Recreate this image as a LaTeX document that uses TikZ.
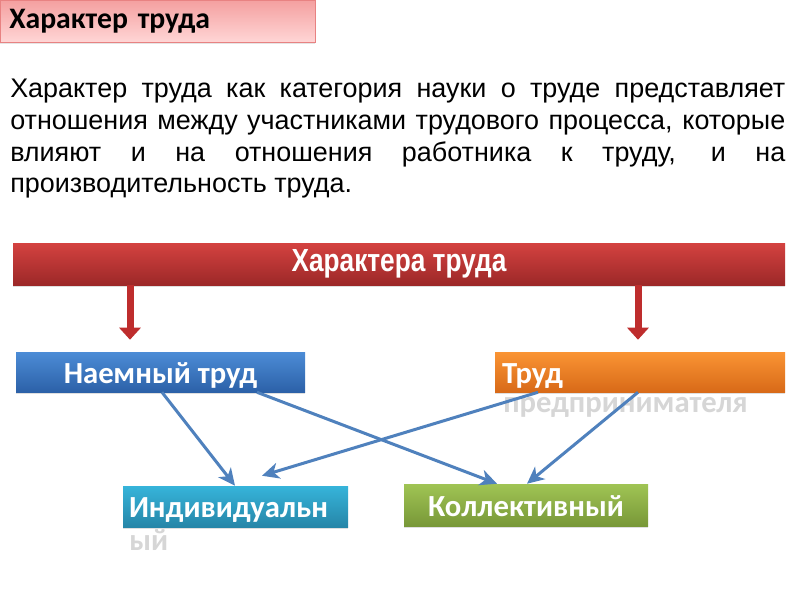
\documentclass[tikz,border=0pt]{standalone}
\usepackage{fontspec}
\setmainfont{Liberation Sans}
\newfontfamily\calfont{Carlito}
\newfontfamily\narrowfont[FakeStretch=0.82]{Liberation Sans}
\usetikzlibrary{arrows.meta,shadows,calc}
\newcommand\pxx[1]{#1*0.75pt}
\definecolor{linkblue}{RGB}{79,129,189}
\definecolor{arrred}{RGB}{190,45,45}
\tikzset{
  boxbase/.style={inner ysep=0pt, font=\calfont\bfseries\fontsize{23}{26}\selectfont, text=white,
    text height=\pxx{24}, text depth=\pxx{2},
    drop shadow={opacity=0.25, shadow xshift=0pt, shadow yshift=-1.5pt}},
  titlebar/.style={draw={rgb,255:red,232;green,130;blue,130}, line width=0.6pt,
    top color={rgb,255:red,244;green,160;blue,160}, bottom color={rgb,255:red,255;green,214;blue,214},
    inner ysep=0pt, font=\calfont\bfseries\fontsize{22.3}{25}\selectfont, text=black,
    drop shadow={opacity=0.2, shadow xshift=0pt, shadow yshift=-1.5pt}},
  redbar/.style={top color={rgb,255:red,212;green,66;blue,64}, bottom color={rgb,255:red,156;green,40;blue,40},
    inner sep=0pt, font=\narrowfont\bfseries\fontsize{24}{27}\selectfont, text=white,
    drop shadow={opacity=0.25, shadow xshift=0pt, shadow yshift=-1.5pt}},
  bluebox/.style={boxbase, top color={rgb,255:red,76;green,140;blue,214}, bottom color={rgb,255:red,44;green,97;blue,168}},
  orangebox/.style={boxbase, top color={rgb,255:red,250;green,148;blue,52}, bottom color={rgb,255:red,216;green,106;blue,24}},
  cyanbox/.style={boxbase, top color={rgb,255:red,54;green,180;blue,218}, bottom color={rgb,255:red,38;green,134;blue,168}},
  greenbox/.style={boxbase, top color={rgb,255:red,160;green,196;blue,84}, bottom color={rgb,255:red,120;green,152;blue,56}},
  overflow/.style={inner sep=0pt, font=\calfont\bfseries\fontsize{23}{26}\selectfont, text=black!16},
  redarrow/.style={draw=arrred, line width=\pxx{7}, -{Triangle[width=\pxx{21},length=\pxx{12}]}},
  bluearrow/.style={draw=linkblue, line width=\pxx{3}, -{Stealth[length=\pxx{17},width=\pxx{16},inset=\pxx{5}]}}
}
\begin{document}
\begin{tikzpicture}[x=0.75pt,y=-0.75pt]
\useasboundingbox (0,0) rectangle (800,600);
\fill[white] (0,0) rectangle (800,600);

% title bar
\node[titlebar, anchor=north west, text width=\pxx{297}, inner xsep=\pxx{9}, minimum height=\pxx{42}, align=left] (ttl) at (0,0) {Характер труда};

% paragraph
\node[anchor=north west, inner sep=0pt, text width=\pxx{775}, align=justify,
      font=\fontsize{20.2}{23.8}\selectfont] (par) at (10,79)
  {Характер труда как категория науки о труде представляет\linebreak
   отношения между участниками трудового процесса, которые\linebreak
   влияют и на отношения работника к труду, и на\linebreak
   производительность труда.};

% red bar
\node[redbar, minimum width=\pxx{772}, minimum height=\pxx{42}] (bar) at (399,264) {Характера труда};

% second row
\node[bluebox, minimum width=\pxx{289}, minimum height=\pxx{40}] (nai) at (160.5,372) {Наемный труд};
\node[orangebox, minimum width=\pxx{290}, minimum height=\pxx{40}, inner xsep=\pxx{7}] (trud) at (640,372) {\makebox[207pt][l]{Труд}};
\node[overflow, anchor=base west] (trud2) at (503,412) {предпринимателя};

% third row
\node[cyanbox, minimum width=\pxx{225}, minimum height=\pxx{41}, inner xsep=\pxx{6}] (ind) at (235.5,506.5) {\makebox[159.75pt][l]{Индивидуальн}};
\node[overflow, anchor=base west] (ind2) at (129,550) {ый};
\node[greenbox, minimum width=\pxx{244}, minimum height=\pxx{42}] (kol) at (526,505) {Коллективный};

% red arrows
\coordinate (r1s) at (bar.south -| 130,0);
\coordinate (r1e) at ($(nai.north -| 130,0)+(0,-12)$);
\coordinate (r2s) at (bar.south -| 638,0);
\coordinate (r2e) at ($(trud.north -| 638,0)+(0,-12)$);
\draw[redarrow] (r1s) -- (r1e);
\draw[redarrow] (r2s) -- (r2e);

% blue connectors
\coordinate (a1s) at (nai.south -| 162,0);
\coordinate (a1e) at (ind.north -| 235,0);
\coordinate (a2s) at (nai.south -| 257,0);
\coordinate (a2e) at (kol.north -| 497,0);
\coordinate (a3s) at (trud.south -| 538,0);
\coordinate (a3e) at ($(ind.north -| 262,0)+(0,-10)$);
\coordinate (a4s) at (trud.south -| 638,0);
\coordinate (a4e) at (kol.north -| 527,0);
\draw[bluearrow] (a1s) -- (a1e);
\draw[bluearrow] (a2s) -- (a2e);
\draw[bluearrow] (a3s) -- (a3e);
\draw[bluearrow] (a4s) -- (a4e);
\end{tikzpicture}
\end{document}
